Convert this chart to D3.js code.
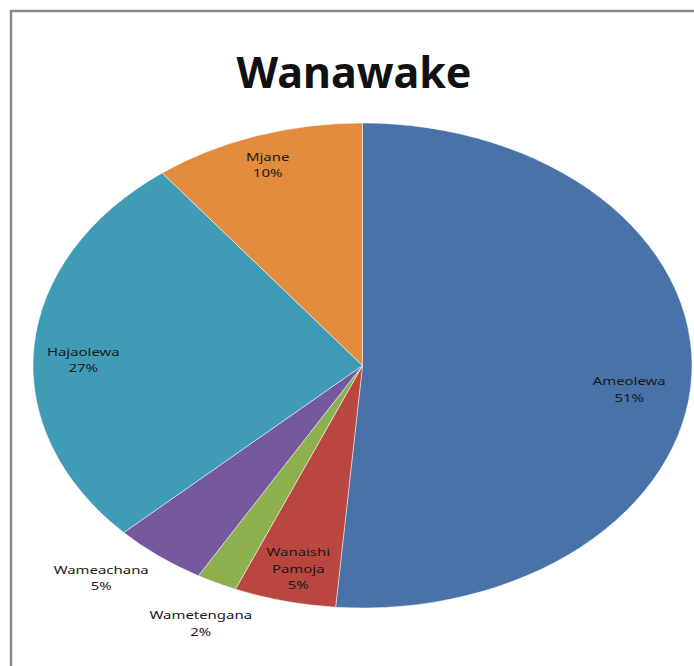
<!DOCTYPE html>
<html>
<head>
<meta charset="utf-8">
<script src="https://cdn.jsdelivr.net/npm/d3@7"></script>
<style>
  body { margin: 0; background: #ffffff; }
  svg { display: block; }
</style>
</head>
<body>
<div id="chart"></div>
<script>
// data (share of women by marital status)
const categories = ['Ameolewa', 'Wanaishi Pamoja', 'Wametengana', 'Wameachana', 'Hajaolewa', 'Mjane'];
const values = [51.3, 5.0, 2.0, 4.6, 26.7, 10.4];
const labelLines = [['Ameolewa'], ['Wanaishi', 'Pamoja'], ['Wametengana'], ['Wameachana'], ['Hajaolewa'], ['Mjane']];
const sliceColors = ['#4872a8', '#b9463f', '#8db04f', '#75589e', '#409cb6', '#e28b3d'];

// where each label sits: radius as share of the pie radius, then a small nudge
const labelRadius = [0.81, 0.85, 1.15, 1.2, 0.85, 0.85];
const labelNudge = [[0, 16], [2, 3], [6, 8], [-17, -16], [0, 11], [-5, -5]];

const width = 694, height = 666;
const cx = 362.5, cy = 365.5;
const R = 242.5;            // vertical radius
const sx = 329.5 / R;       // the picture is stretched sideways

const svg = d3.select('#chart')
    .append('svg')
    .attr('width', width)
    .attr('height', height);

// chart frame (right and bottom edges fall outside the window)
svg.append('rect')
    .attr('x', 11)
    .attr('y', 11)
    .attr('width', 720)
    .attr('height', 700)
    .attr('fill', 'none')
    .attr('stroke', '#8a8a8a')
    .attr('stroke-width', 2.5);

svg.append('text')
    .attr('x', 354)
    .attr('y', 88)
    .attr('text-anchor', 'middle')
    .style('font', 'bold 43px "Noto Sans", sans-serif')
    .style('fill', '#111')
    .text('Wanawake');

const slices = categories.map((c, i) => ({ name: c, value: values[i], lines: labelLines[i], color: sliceColors[i] }));
const total = d3.sum(values);

const pie = d3.pie()
    .sort(null)
    .value(d => d.value);

const arc = d3.arc()
    .innerRadius(0)
    .outerRadius(R);

const arcs = pie(slices);

const pieGroup = svg.append('g')
    .attr('transform', `translate(${cx},${cy}) scale(${sx},1)`);

pieGroup.selectAll('path.slice')
    .data(arcs)
    .join('path')
    .classed('slice', true)
    .attr('d', arc)
    .attr('fill', d => d.data.color)
    .attr('stroke', '#ffffff')
    .attr('stroke-opacity', 0.6)
    .attr('stroke-width', 0.8)
    .attr('vector-effect', 'non-scaling-stroke');

const lineGap = 16.5;

const labels = svg.selectAll('text.label')
    .data(arcs)
    .join('text')
    .classed('label', true)
    .attr('transform', (d, i) => {
        const mid = (d.startAngle + d.endAngle) / 2;
        const p = d3.pointRadial(mid, R * labelRadius[i]);
        const x = cx + p[0] * sx + labelNudge[i][0];
        const y = cy + p[1] + labelNudge[i][1];
        return `translate(${x},${y}) scale(${sx},1)`;
    })
    .attr('text-anchor', 'middle')
    .style('font', '11px "Noto Sans", sans-serif')
    .style('fill', '#1a1a1a');

labels.each(function(d) {
    const lines = d.data.lines.concat([Math.round(d.data.value / total * 100) + '%']);
    const top = -(lines.length - 1) * lineGap / 2;
    d3.select(this).selectAll('tspan')
        .data(lines)
        .join('tspan')
        .attr('x', 0)
        .attr('y', (t, j) => top + j * lineGap)
        .attr('dy', '0.35em')
        .text(t => t);
});
</script>
</body>
</html>
